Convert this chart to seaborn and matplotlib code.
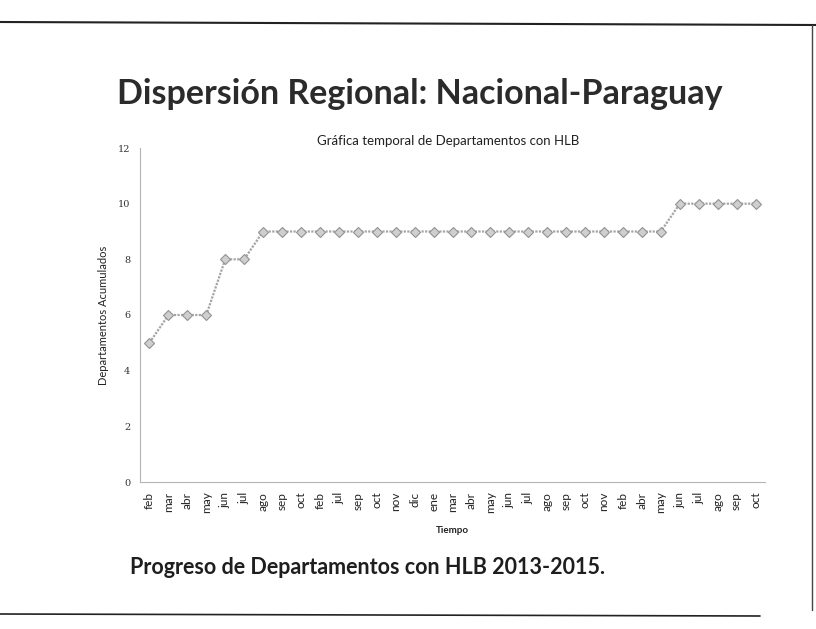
import matplotlib
matplotlib.use("Agg")
import matplotlib.pyplot as plt
import seaborn as sns
import pandas as pd
from matplotlib.lines import Line2D

months = ["feb", "mar", "abr", "may", "jun", "jul", "ago", "sep", "oct",
          "feb", "jul", "sep", "oct", "nov", "dic", "ene", "mar",
          "abr", "may", "jun", "jul", "ago", "sep", "oct", "nov",
          "feb", "abr", "may", "jun", "jul", "ago", "sep", "oct"]
departamentos = [5, 6, 6, 6, 8, 8, 9, 9, 9,
                 9, 9, 9, 9, 9, 9, 9, 9,
                 9, 9, 9, 9, 9, 9, 9, 9,
                 9, 9, 9, 10, 10, 10, 10, 10]
y_ticks = [0, 2, 4, 6, 8, 10, 12]

df = pd.DataFrame({"idx": range(len(months)), "mes": months, "val": departamentos})

sns.set_theme(style="white")
plt.rcParams["font.family"] = ["Lato", "DejaVu Sans"]

W, H = 816, 629
fig = plt.figure(figsize=(W / 100, H / 100), dpi=100)
fig.patch.set_facecolor("white")

ax = fig.add_axes([140 / W, 1 - 482 / H, 625 / W, (482 - 148) / H])
sns.lineplot(data=df, x="idx", y="val", ax=ax, color="#a5a5a5", linewidth=1.6,
             linestyle=(0, (1, 0.6)), marker="D", markersize=5,
             markerfacecolor="#cfcfcf", markeredgecolor="#929292", markeredgewidth=0.8)

ax.set_xlim(-0.5, len(months) - 0.5)
ax.set_ylim(0, 12)
ax.set_yticks(y_ticks)
ax.set_yticklabels([str(t) for t in y_ticks], fontsize=7, color="#333333",
                   family=["DejaVu Serif"])
ax.set_xticks(range(len(months)))
ax.set_xticklabels(months, rotation=90, fontsize=8.5, color="#222222")
ax.tick_params(axis="both", length=0, pad=7)
for side in ["top", "right"]:
    ax.spines[side].set_visible(False)
for side in ["left", "bottom"]:
    ax.spines[side].set_color("#b5b5b5")
    ax.spines[side].set_linewidth(0.8)
    ax.spines[side].set_linestyle((0, (1, 1)))

ax.set_xlabel("Tiempo", fontsize=7, fontweight="bold", color="#222222", labelpad=9)
ax.set_ylabel("Departamentos Acumulados", fontsize=8, color="#222222", labelpad=6)

fig.text(448 / W, 1 - 141 / H, "Gráfica temporal de Departamentos con HLB",
         ha="center", va="center", fontsize=9.5, color="#222222")
fig.text(420 / W, 1 - 94 / H, "Dispersión Regional: Nacional-Paraguay",
         ha="center", va="center", fontsize=24.5, fontweight="bold", color="#2b2b2b")
fig.text(130 / W, 1 - 568 / H, "Progreso de Departamentos con HLB 2013-2015.",
         ha="left", va="center", fontsize=15.5, fontweight="bold", color="#1e1e1e")

# slide border lines
fig.add_artist(Line2D([0, 1], [1 - 22 / H, 1 - 25 / H], color="#222222", lw=1.5))
fig.add_artist(Line2D([0, 760 / W], [1 - 614 / H, 1 - 616 / H], color="#222222", lw=1.2))
fig.add_artist(Line2D([812 / W, 812 / W], [1 - 25 / H, 1 - 610 / H], color="#444444", lw=1.0))

fig.savefig("out.png", dpi=100, facecolor="white")
